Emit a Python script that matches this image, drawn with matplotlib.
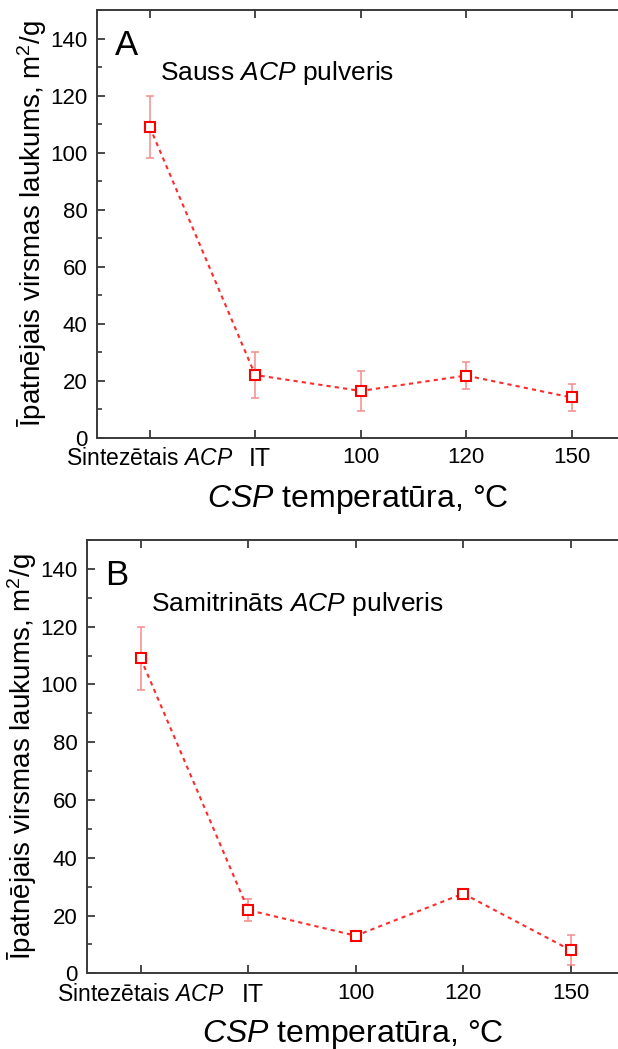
import matplotlib
matplotlib.use("Agg")
import matplotlib.pyplot as plt
from matplotlib.ticker import MultipleLocator
from matplotlib.transforms import ScaledTranslation

plt.rcParams['font.family'] = ['Liberation Sans', 'DejaVu Sans']
plt.rcParams['mathtext.fontset'] = 'custom'
plt.rcParams['mathtext.rm'] = 'Liberation Sans'
plt.rcParams['mathtext.it'] = 'Liberation Sans:italic'

# sample groups along the x axis
positions = [0, 1, 2, 3, 4]
x_labels = ['Sintezētais $\\mathit{ACP}$', 'IT', '100', '120', '150']

# specific surface area, m2/g, with standard deviation
dry_area = [109.0, 22.0, 16.4, 21.8, 14.1]
dry_err = [11.0, 8.0, 6.9, 4.8, 4.6]
wet_area = [109.0, 21.9, 13.0, 27.6, 8.0]
wet_err = [11.0, 3.9, 1.0, 1.0, 5.2]

spine_col = '#3a3a3a'


def shift_label(fig, label, dx_pt):
    label.set_transform(label.get_transform() +
                        ScaledTranslation(dx_pt / 72, 0, fig.dpi_scale_trans))


def draw_panel(fig, ax, area, err, letter, title):
    ax.errorbar(positions, area, yerr=err, fmt='none', ecolor='#f58a8a',
                elinewidth=1.1, capsize=3.2, capthick=1.1, zorder=2)
    ax.plot(positions, area, linestyle=(0, (2, 2)), color='#ff2a2a', lw=1.5,
            marker='s', markersize=6.5, markerfacecolor='white',
            markeredgecolor='#ff0000', markeredgewidth=1.5, zorder=3)

    ax.set_xlim(-0.5, 4.44)
    ax.set_ylim(0, 150)
    ax.set_xticks(positions)
    ax.set_xticklabels(x_labels)
    ax.yaxis.set_major_locator(MultipleLocator(20))
    ax.yaxis.set_minor_locator(MultipleLocator(10))
    ax.tick_params(axis='both', which='major', direction='in', length=6,
                   width=1.3, color=spine_col, labelsize=16, pad=7)
    ax.tick_params(axis='y', which='minor', direction='in', length=3.5,
                   width=1.2, color=spine_col)
    ax.tick_params(axis='x', top=True)

    labels = ax.get_xticklabels()
    labels[0].set_fontsize(16.5)
    labels[1].set_fontsize(18)
    shift_label(fig, labels[1], 3)

    for side in ['left', 'bottom', 'top']:
        ax.spines[side].set_color(spine_col)
        ax.spines[side].set_linewidth(1.4)
    ax.spines['right'].set_visible(False)

    ax.set_xlabel('$\\mathit{CSP}$ temperatūra, °C', fontsize=23, labelpad=8)
    ax.set_ylabel('Īpatnējais virsmas laukums, m$^2$/g', fontsize=20, labelpad=1)

    ax.text(-0.33, 143.5, letter, fontsize=25, va='top', ha='left')
    ax.text(0.1, 125.5, title, fontsize=19, va='baseline', ha='left')


fig = plt.figure(figsize=(6.18, 10.49), dpi=100)
W, H = 618.0, 1049.0

ax_a = fig.add_axes([97 / W, (H - 437.7) / H, 521 / W, 427.7 / H])
draw_panel(fig, ax_a, dry_area, dry_err, 'A', 'Sauss $\\mathit{ACP}$ pulveris')

ax_b = fig.add_axes([87 / W, (H - 973.3) / H, 531 / W, 433.3 / H])
draw_panel(fig, ax_b, wet_area, wet_err, 'B', 'Samitrināts $\\mathit{ACP}$ pulveris')

fig.savefig('out.png', dpi=100)
